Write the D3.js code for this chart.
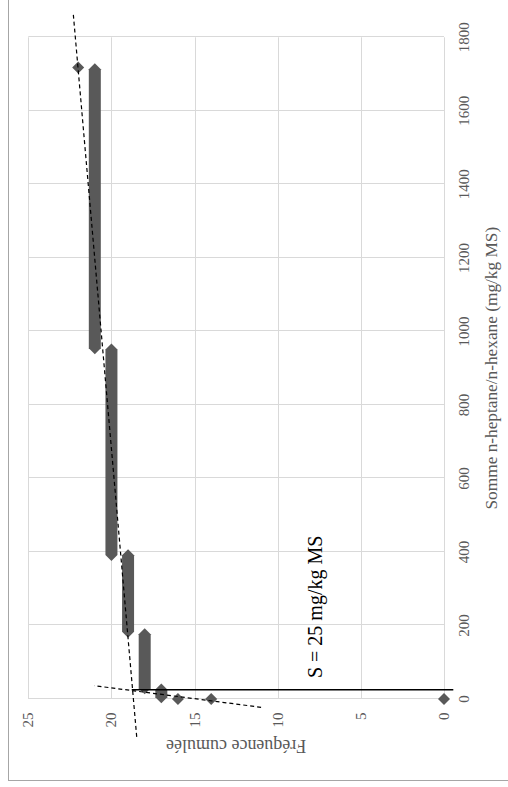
<!DOCTYPE html>
<html>
<head>
<meta charset="utf-8">
<script src="https://cdn.jsdelivr.net/npm/d3@7"></script>
<style>
  body { margin: 0; background: #fff; }
  svg text { font-family: "Liberation Serif", "Times New Roman", serif; }
</style>
</head>
<body>
<div id="chart"></div>
<script>
// cumulative frequency steps: each level holds from runStart to runEnd
var levels   = [0, 14, 16, 17, 18, 19, 20, 21, 22];
var runStart = [0, 0, 0, 5, 29, 183, 392, 954, 1718];
var runEnd   = [0, 0, 0, 26, 176, 391, 951, 1713, 1718];

var xTicks = [0, 200, 400, 600, 800, 1000, 1200, 1400, 1600, 1800];
var yTicks = [0, 5, 10, 15, 20, 25];

// trend lines (endpoints in data units)
var steepTrend   = [[-103, 18.48], [1861, 22.29]];
var shallowTrend = [[-22.6, 11.0], [36.2, 21.03]];

// threshold S = 25
var threshold = 25;
var thresholdSpan = [18.78, -0.56];
var thresholdLabel = "S = 25 mg/kg MS";
var labelAt = [57, 7.75];

var xTitle = "Somme n-heptane/n-hexane (mg/kg MS)";
var yTitle = "Fréquence cumulée";

var width = 508, height = 787;

var svg = d3.select("#chart").append("svg")
    .attr("width", width)
    .attr("height", height);

// the whole chart is drawn lying on its side
var frame = svg.append("g")
    .attr("transform", "translate(0," + height + ") rotate(-90)");

var x = d3.scaleLinear().domain([0, 1800]).range([88, 749.7]);
var y = d3.scaleLinear().domain([0, 25]).range([444, 28.3]);

frame.append("rect")
    .attr("x", 6.5)
    .attr("y", 8.5)
    .attr("width", 786)
    .attr("height", 520)
    .attr("fill", "none")
    .attr("stroke", "#a6a6a6")
    .attr("stroke-width", 1);

// grid
frame.append("g").selectAll("line")
    .data(yTicks)
  .enter().append("line")
    .attr("x1", x(0)).attr("x2", x(1800))
    .attr("y1", function(d) { return Math.round(y(d)) + 0.5; })
    .attr("y2", function(d) { return Math.round(y(d)) + 0.5; })
    .attr("stroke", "#d9d9d9");

frame.append("g").selectAll("line")
    .data(xTicks)
  .enter().append("line")
    .attr("y1", y(0)).attr("y2", y(25))
    .attr("x1", function(d) { return Math.round(x(d)) + 0.5; })
    .attr("x2", function(d) { return Math.round(x(d)) + 0.5; })
    .attr("stroke", "#d9d9d9");

// tick labels
frame.append("g").selectAll("text")
    .data(xTicks)
  .enter().append("text")
    .attr("x", function(d) { return x(d); })
    .attr("y", 463.5)
    .attr("text-anchor", "middle")
    .attr("dominant-baseline", "central")
    .attr("font-size", 15)
    .attr("fill", "#595959")
    .text(function(d) { return d; });

frame.append("g").selectAll("text")
    .data(yTicks)
  .enter().append("text")
    .attr("x", 74.5)
    .attr("y", function(d) { return y(d); })
    .attr("text-anchor", "end")
    .attr("dominant-baseline", "central")
    .attr("font-size", 15)
    .attr("fill", "#595959")
    .text(function(d) { return d; });

// axis titles
frame.append("text")
    .attr("x", (x(0) + x(1800)) / 2)
    .attr("y", 491)
    .attr("text-anchor", "middle")
    .attr("dominant-baseline", "central")
    .attr("font-size", 17.3)
    .attr("fill", "#595959")
    .text(xTitle);

frame.append("text")
    .attr("transform", "translate(41," + (y(0) + y(25)) / 2 + ") rotate(-90)")
    .attr("text-anchor", "middle")
    .attr("dominant-baseline", "central")
    .attr("font-size", 18)
    .attr("fill", "#595959")
    .text(yTitle);

// markers: runs of overlapping diamonds
var h = 6;
var runs = levels.map(function(l, i) {
  return { level: l, from: runStart[i], to: runEnd[i] };
});

frame.append("g").selectAll("path")
    .data(runs)
  .enter().append("path")
    .attr("d", function(d) {
      var u1 = x(d.from), u2 = x(d.to), v = y(d.level);
      return "M" + (u1 - h) + "," + v +
             "L" + u1 + "," + (v - h) +
             "L" + u2 + "," + (v - h) +
             "L" + (u2 + h) + "," + v +
             "L" + u2 + "," + (v + h) +
             "L" + u1 + "," + (v + h) + "Z";
    })
    .attr("fill", "#595959");

// threshold line
frame.append("line")
    .attr("x1", x(threshold)).attr("x2", x(threshold))
    .attr("y1", y(thresholdSpan[0])).attr("y2", y(thresholdSpan[1]))
    .attr("stroke", "#000")
    .attr("stroke-width", 1.5);

var line = d3.line()
    .x(function(d) { return x(d[0]); })
    .y(function(d) { return y(d[1]); });

[steepTrend, shallowTrend].forEach(function(t) {
  frame.append("path")
      .attr("d", line(t))
      .attr("fill", "none")
      .attr("stroke", "#000")
      .attr("stroke-width", 1.2)
      .attr("stroke-dasharray", "4,3");
});

frame.append("text")
    .attr("x", x(labelAt[0]))
    .attr("y", y(labelAt[1]))
    .attr("dominant-baseline", "central")
    .attr("font-size", 20)
    .attr("fill", "#000")
    .text(thresholdLabel);
</script>
</body>
</html>
